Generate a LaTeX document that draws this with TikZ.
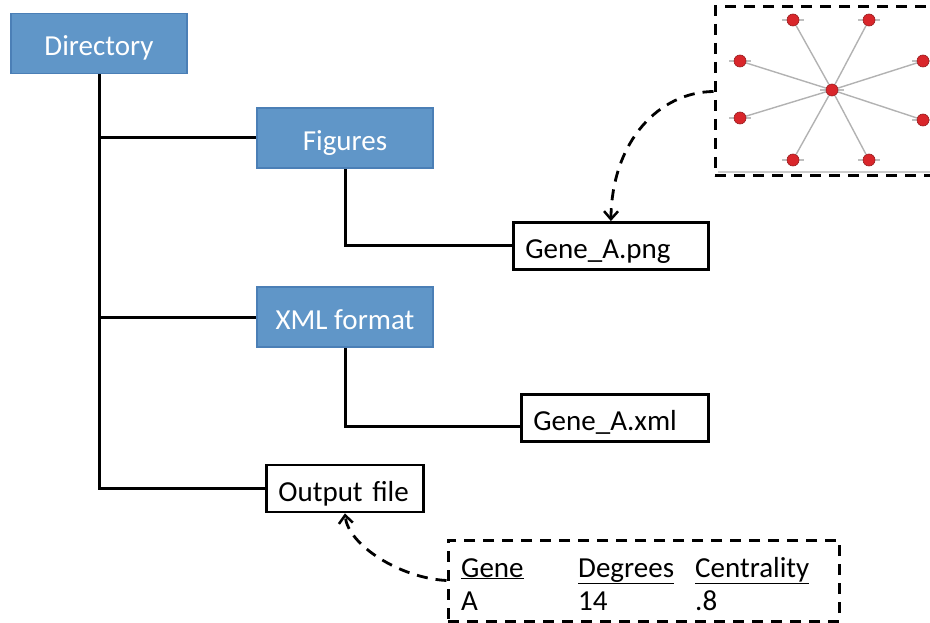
\documentclass[tikz,border=0pt]{standalone}
\usepackage{fontspec}
\setmainfont{Carlito}
\usetikzlibrary{arrows.meta}
\definecolor{dirblue}{HTML}{6096C8}
\definecolor{dirline}{HTML}{4B7FB6}
\definecolor{netred}{HTML}{D9262B}
\tikzset{
  every node/.style={font=\fontsize{29}{34}\selectfont},
  folder/.style={fill=dirblue, draw=dirline, line width=1.6pt, text=white,
    minimum width=176pt, minimum height=60pt, inner sep=0pt,
    text height=25pt, text depth=0pt},
  filebox/.style={draw, line width=2.8pt, minimum height=47pt, inner xsep=12pt,
    inner ysep=0pt, align=left, anchor=west, text height=25pt, text depth=0pt},
  tree/.style={line width=3pt},
  dashbox/.style={draw, line width=3pt, dash pattern=on 11pt off 8pt, inner sep=0pt},
  pointer/.style={line width=2.8pt, dash pattern=on 11pt off 8pt,
    -{Straight Barb[length=8pt,width=14pt,line width=2.5pt]}},
  cell/.style={anchor=base west, inner sep=0pt},
  netnode/.style={circle, fill=netred, draw=netred!70!black, line width=0.6pt,
    minimum size=12pt, inner sep=0pt},
  netedge/.style={draw=black!30, line width=1.4pt},
  smear/.style={draw=black!25, line width=2.5pt}
}
\begin{document}
\begin{tikzpicture}[x=1pt, y=-1pt]
  \useasboundingbox (0,0) rectangle (930,623);

  % folders
  \node[folder] (dir) at (99,43.5) {Directory};
  \node[folder] (fig) at (345,138) {Figures};
  \node[folder] (xmlf) at (345,317) {XML format};

  % files
  \node[filebox, text width=171pt] (png) at (512,246) {Gene\_A.png};
  \node[filebox, text width=163pt] (xmlfile) at (520,418) {Gene\_A.xml};
  \node[filebox, text width=133pt] (out) at (265,488.5) {Output file};

  % tree
  \draw[tree] (dir.south) |- (fig.west);
  \draw[tree] (dir.south) |- (xmlf.west);
  \draw[tree] (dir.south) |- (out.west);
  \draw[tree] (fig.south) |- (png.west);
  \draw[tree] (xmlf.south) |- ([yshift=-8pt]xmlfile.west);

  % network picture
  \node[dashbox, minimum width=230pt, minimum height=169pt] (gbox) at (830,91.5) {};
  \draw[draw=black!20, line width=1.5pt] (718,172) -- (935,172);
  \foreach \nx/\ny [count=\i] in {793/20, 869/20, 740/61, 923/61,
                                  740/118, 923/120, 793/160, 869/160}{
    \draw[smear] (\nx-11,\ny) -- (\nx+11,\ny);
    \node[netnode] (n\i) at (\nx,\ny) {};
  }
  \draw[smear] (820,90) -- (844,90);
  \node[netnode] (hub) at (832,90) {};
  \foreach \i in {1,...,8}
    \draw[netedge] (hub) -- (n\i);

  % output table
  \node[dashbox, minimum width=391pt, minimum height=81pt] (tbl) at (643.5,580.5) {};
  \node[cell] (hgene) at (461,577) {\underline{Gene}};
  \node[cell] (hdeg) at (578,577) {\underline{Degrees}};
  \node[cell] (hcen) at (695,577) {\underline{Centrality}};
  \node[cell] (vgene) at (461,610) {A};
  \node[cell] (vdeg) at (578,610) {14};
  \node[cell] (vcen) at (695,610) {.8};

  % pointers
  \draw[pointer] (gbox.west) .. controls (660,92) and (612,140) .. (png.north);
  \draw[pointer] (tbl.west) .. controls (400,578) and (348,545) .. (out.south);
\end{tikzpicture}
\end{document}
